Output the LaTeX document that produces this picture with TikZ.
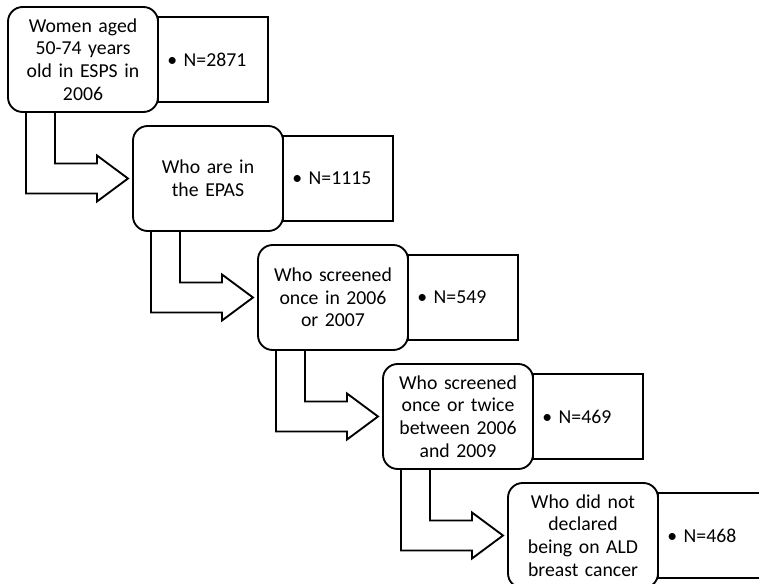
\documentclass[tikz,border=0pt]{standalone}
\usepackage{fontspec}
\setmainfont{Carlito}
\usetikzlibrary{positioning,calc}
\tikzset{
  flow_txt/.style = {inner sep=0pt, outer sep=0pt, line width=1.4pt,
    draw=black, font=\fontsize{14.8}{17}\selectfont},
  crit_b/.style = {flow_txt, rounded corners=11pt, align=center,
    text width=108pt, minimum width=112.5pt, minimum height=78.75pt},% critere
  count_b/.style = {flow_txt, rectangle, align=left, inner xsep=7pt,
    text width=68.5pt, minimum height=63.75pt},% effectif
  fat_arr/.style = {draw=black, line width=1.4pt, line join=miter}% grosse fleche
}
\begin{document}
\begin{tikzpicture}[x=0.75pt,y=-0.75pt]
  \useasboundingbox (0,0) rectangle (759,584);
  \clip (0,0) rectangle (759,584);
  \node [crit_b] (b1) at (83,59.5) {Women aged\\50-74 years\\old in ESPS in\\2006};
  \node [crit_b] (b2) at (208,178.5) {Who are in\\the EPAS};
  \node [crit_b] (b3) at (333,297.5) {Who screened\\once in 2006\\or 2007};
  \node [crit_b] (b4) at (458,416.5) {Who screened\\once or twice\\between 2006\\and 2009};
  \node [crit_b] (b5) at (583,535.5) {Who did not\\declared\\being on ALD\\breast cancer};
  \node [count_b, right=0pt of b1] (n1) {\textbullet\ N=2871};
  \node [count_b, right=0pt of b2] (n2) {\textbullet\ N=1115};
  \node [count_b, right=0pt of b3] (n3) {\textbullet\ N=549};
  \node [count_b, right=0pt of b4] (n4) {\textbullet\ N=469};
  \node [count_b, right=0pt of b5] (n5) {\textbullet\ N=468};
  % fleches
  \foreach \a/\b in {b1/b2,b2/b3,b3/b4,b4/b5}
    \draw [fat_arr] ($(\a.south west)+(47,0)$) |- ($(\b.west)+(-36,-15)$)
      -- ++(0,-8) -- ($(\b.west)+(-5,0)$) -- ($(\b.west)+(-36,23)$)
      -- ++(0,-8) -| ($(\a.south west)+(18,0)$);
\end{tikzpicture}
\end{document}
